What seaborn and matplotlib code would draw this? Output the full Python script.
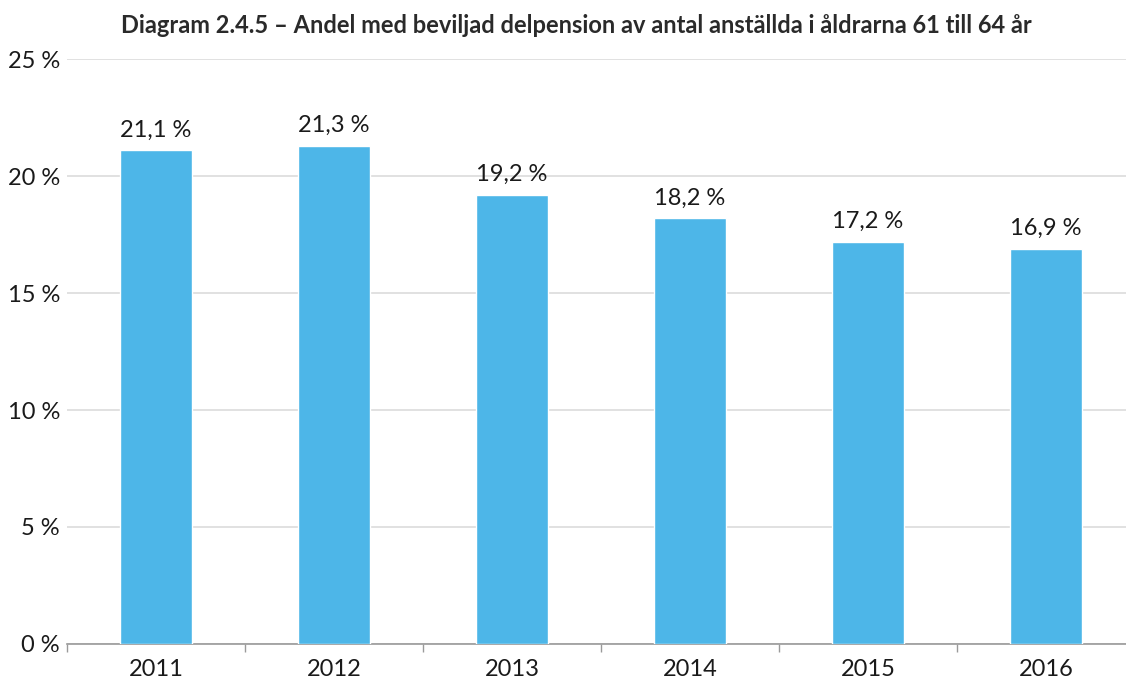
import matplotlib
matplotlib.use("Agg")
import matplotlib.pyplot as plt
import seaborn as sns
import pandas as pd

years = ["2011", "2012", "2013", "2014", "2015", "2016"]
shares = [21.1, 21.3, 19.2, 18.2, 17.2, 16.9]
y_ticks = [0, 5, 10, 15, 20, 25]
title = "Diagram 2.4.5 – Andel med beviljad delpension av antal anställda i åldrarna 61 till 64 år"

sns.set_theme(style="white")
plt.rcParams["font.family"] = ["Lato", "DejaVu Sans"]

df = pd.DataFrame({"year": years, "share": shares})

fig = plt.figure(figsize=(11.26, 6.84), dpi=100)
ax = fig.add_axes([0.0595, 0.0585, 0.9485, 0.8552])

sns.barplot(data=df, x="year", y="share", color="#4DB6E8", saturation=1,
            width=0.4, ax=ax, zorder=3)

# value labels above bars, Swedish decimal comma
for i, v in enumerate(shares):
    ax.annotate(f"{v:.1f} %".replace(".", ","), (i, v), xytext=(0, 7),
                textcoords="offset points", ha="center", va="bottom",
                fontsize=17, color="#1a1a1a")

ax.set_ylim(0, 25)
ax.set_xlim(-0.5, len(years) - 0.5)
ax.set_yticks(y_ticks)
ax.set_yticklabels([f"{t} %" for t in y_ticks])
ax.yaxis.grid(True, color="#dcdcdc", linewidth=1.2, zorder=0)
ax.set_axisbelow(True)

ax.set_xticks([i - 0.5 for i in range(len(years) + 1)], minor=True)
ax.tick_params(axis="x", which="minor", length=6, width=1, color="#9a9a9a", bottom=True)
ax.tick_params(axis="x", which="major", length=0, labelsize=17, pad=11, labelcolor="#1a1a1a")
ax.tick_params(axis="y", length=0, labelsize=17, pad=5, labelcolor="#1a1a1a")

for s in ["top", "right", "left"]:
    ax.spines[s].set_visible(False)
ax.spines["bottom"].set_color("#9a9a9a")
ax.spines["bottom"].set_linewidth(1.2)

ax.set_xlabel("")
ax.set_ylabel("")
fig.text(0.512, 0.962, title, ha="center", va="center", fontsize=17,
         fontweight="bold", color="#2a2a2a")

fig.savefig("out.png", dpi=100)
